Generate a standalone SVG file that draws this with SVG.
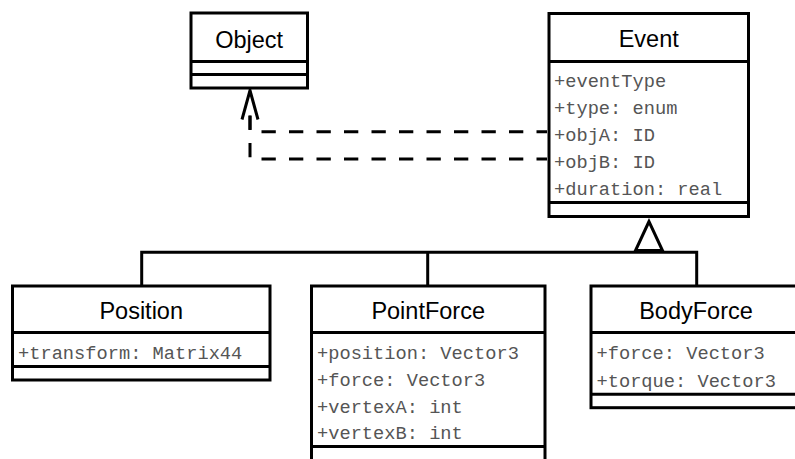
<svg xmlns="http://www.w3.org/2000/svg" width="795" height="459" viewBox="0 0 795 459">
<style>
.box{fill:#fff;stroke:#000;stroke-width:3}
.ln{stroke:#000;stroke-width:3;fill:none}
.title{font-family:"Liberation Sans",Arial,sans-serif;font-size:23.5px;fill:#000;text-anchor:middle}
.attr{font-family:"Liberation Mono","Courier New",monospace;font-size:18.7px;fill:#555}
.dash{stroke:#000;stroke-width:3;fill:none;stroke-dasharray:14.3 13.2;stroke-dashoffset:3.8}
</style>
<rect width="795" height="459" fill="#fff"/>
<g id="connectors">
<path class="dash" d="M547 131.7H250V104"/>
<path class="dash" d="M547 159H250V104"/>
<polyline class="ln" points="242,119.5 250,90.5 258,119.5"/>
<path class="ln" d="M141.7 286V252.3H696.7V286M427.7 252.3V286"/>
<polygon class="box" points="649,221.5 635.5,250.5 662.5,250.5"/>
</g>
<g id="Object">
<rect class="box" x="191" y="13" width="116.5" height="75"/>
<path class="ln" d="M191 61.5H307.5M191 74.5H307.5"/>
<text class="title" x="249.2" y="47.5">Object</text>
</g>
<g id="Event">
<rect class="box" x="549" y="13.5" width="199.5" height="203"/>
<path class="ln" d="M549 61.5H748.5M549 202.5H748.5"/>
<text class="title" x="648.7" y="47">Event</text>
<text class="attr" x="554" y="87">+eventType</text>
<text class="attr" x="554" y="114">+type: enum</text>
<text class="attr" x="554" y="141">+objA: ID</text>
<text class="attr" x="554" y="168">+objB: ID</text>
<text class="attr" x="554" y="195">+duration: real</text>
</g>
<g id="Position">
<rect class="box" x="12.5" y="286" width="257.5" height="94"/>
<path class="ln" d="M12.5 332.5H270M12.5 366.5H270"/>
<text class="title" x="141.2" y="319">Position</text>
<text class="attr" x="18" y="359">+transform: Matrix44</text>
</g>
<g id="PointForce">
<rect class="box" x="311.5" y="286" width="233.5" height="190"/>
<path class="ln" d="M311.5 332.5H545M311.5 446.5H545"/>
<text class="title" x="428.2" y="319">PointForce</text>
<text class="attr" x="317" y="359">+position: Vector3</text>
<text class="attr" x="317" y="386">+force: Vector3</text>
<text class="attr" x="317" y="412.7">+vertexA: int</text>
<text class="attr" x="317" y="439.3">+vertexB: int</text>
</g>
<g id="BodyForce">
<rect class="box" x="591" y="286" width="220" height="121.7"/>
<path class="ln" d="M591 332.5H811M591 394.3H811"/>
<text class="title" x="696" y="319">BodyForce</text>
<text class="attr" x="596.5" y="359">+force: Vector3</text>
<text class="attr" x="596.5" y="386.5">+torque: Vector3</text>
</g>
</svg>
